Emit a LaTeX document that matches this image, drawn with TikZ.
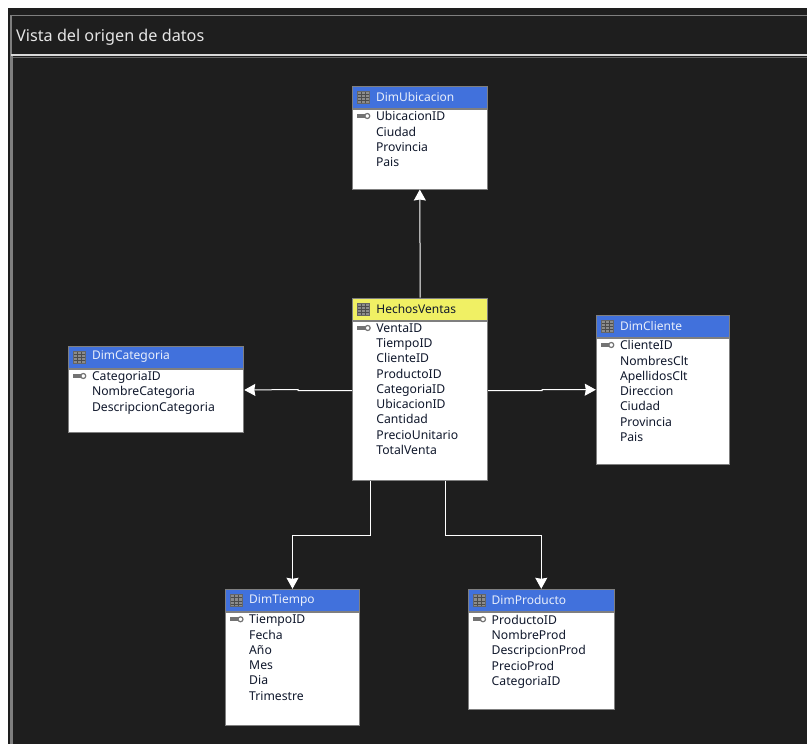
\documentclass[tikz,border=0pt]{standalone}
\usepackage{fontspec}
\setmainfont{Noto Sans}
\usetikzlibrary{positioning, calc, arrows.meta}
\definecolor{panel}{HTML}{1E1E1E}
\definecolor{edge}{HTML}{7F7F7F}
\definecolor{dimblue}{HTML}{4171DC}
\definecolor{factyellow}{HTML}{F0F064}
\definecolor{rowtext}{HTML}{10182C}
\tikzset{
head/.style = {rectangle, draw = edge, line width = 1pt, anchor = north west, inner sep = 0pt,
	minimum height = 22pt, fill = dimblue},
body/.style = {rectangle, draw = edge, line width = 1pt, inner sep = 0pt, fill = white},
headtext/.style = {inner sep = 0pt, anchor = west, font = \fontsize{12}{14}\selectfont, text = white!88!dimblue},
rows/.style = {inner sep = 0pt, anchor = north west, align = left, text = rowtext,
	font = \fontsize{12.2}{15.25}\selectfont},
tableicon/.style = {rectangle, draw = black!60, fill = black!45, line width = .6pt, minimum size = 12pt,
	inner sep = 0pt, path picture = {
		\draw [black!70, line width = .5pt]
			([yshift = -3pt]path picture bounding box.north west) -- ([yshift = -3pt]path picture bounding box.north east)
			([yshift = -6.5pt]path picture bounding box.north west) -- ([yshift = -6.5pt]path picture bounding box.north east)
			([yshift = 2.5pt]path picture bounding box.south west) -- ([yshift = 2.5pt]path picture bounding box.south east)
			([xshift = 4pt]path picture bounding box.north west) -- ([xshift = 4pt]path picture bounding box.south west)
			([xshift = -4pt]path picture bounding box.north east) -- ([xshift = -4pt]path picture bounding box.south east);
	}},
keyicon/.style = {rectangle, minimum width = 14pt, minimum height = 7pt, inner sep = 0pt, path picture = {
		\fill [black!55] ([yshift = 2pt]path picture bounding box.west) rectangle ([xshift = -5pt, yshift = -2pt]path picture bounding box.east);
		\draw [black!55, line width = 1.2pt, fill = white] ([xshift = -3.5pt]path picture bounding box.east) circle [radius = 2.5pt];
	}},
relation/.style = {-{Stealth[length = 11pt, width = 12pt, inset = 1pt]}, draw = white, fill = none, line width = 1pt},
}

\begin{document}
\begin{tikzpicture}[x = 1pt, y = -1pt]

\useasboundingbox (0, 0) rectangle (807, 744);

%% Window
\fill [white] (0, 0) rectangle (807, 744);
\fill [panel] (8, 8) rectangle (807, 744);
\draw [edge, line width = 1.5pt] (807, 15.5) -- (11, 15.5) -- (11, 55);
\draw [edge, line width = 2.5pt] (11.5, 55) -- (11.5, 744);
\draw [white!85!black, line width = 2pt] (11, 55) -- (807, 55);
\draw [black!60, line width = 1pt] (807, 57.5) -- (13, 57.5);
\node at (16, 37) [anchor = west, inner sep = 0pt, text = white!90!black, font = \fontsize{16.2}{18}\selectfont] (title) {Vista del origen de datos};

%% DimUbicacion
\node at (351.8, 85.5) [head, minimum width = 135pt] (ubicacion) {};
\node [body, minimum width = 135pt, minimum height = 80pt, below = 0pt of ubicacion] (ubicacionBody) {};
\node [tableicon] at ($(ubicacion.west) + (11.5, 0)$) (ubicacionIcon) {};
\node [headtext] at ($(ubicacion.west) + (24, 0)$) (ubicacionName) {DimUbicacion};
\node [keyicon] at ($(ubicacionBody.north west) + (12, 7.5)$) (ubicacionKey) {};
\node [rows] at ($(ubicacionBody.north west) + (24, 3)$) (ubicacionRows) {UbicacionID\\Ciudad\\Provincia\\Pais};

%% HechosVentas
\node at (352.2, 297.5) [head, minimum width = 135pt, fill = factyellow] (hechos) {};
\node [body, minimum width = 135pt, minimum height = 159pt, below = 0pt of hechos] (hechosBody) {};
\node [tableicon] at ($(hechos.west) + (11.5, 0)$) (hechosIcon) {};
\node [headtext, text = rowtext] at ($(hechos.west) + (24, 0)$) (hechosName) {HechosVentas};
\node [keyicon] at ($(hechosBody.north west) + (12, 7.5)$) (hechosKey) {};
\node [rows] at ($(hechosBody.north west) + (24, 3)$) (hechosRows) {VentaID\\TiempoID\\ClienteID\\ProductoID\\CategoriaID\\UbicacionID\\Cantidad\\PrecioUnitario\\TotalVenta};

%% DimCategoria
\node at (67.8, 345.5) [head, minimum width = 175.5pt] (categoria) {};
\node [body, minimum width = 175.5pt, minimum height = 63pt, below = 0pt of categoria] (categoriaBody) {};
\node [tableicon] at ($(categoria.west) + (11.5, 0)$) (categoriaIcon) {};
\node [headtext] at ($(categoria.west) + (24, 0)$) (categoriaName) {DimCategoria};
\node [keyicon] at ($(categoriaBody.north west) + (12, 7.5)$) (categoriaKey) {};
\node [rows] at ($(categoriaBody.north west) + (24, 3)$) (categoriaRows) {CategoriaID\\NombreCategoria\\DescripcionCategoria};

%% DimCliente
\node at (595.8, 314.5) [head, minimum width = 133.5pt] (cliente) {};
\node [body, minimum width = 133.5pt, minimum height = 126.5pt, below = 0pt of cliente] (clienteBody) {};
\node [tableicon] at ($(cliente.west) + (11.5, 0)$) (clienteIcon) {};
\node [headtext] at ($(cliente.west) + (24, 0)$) (clienteName) {DimCliente};
\node [keyicon] at ($(clienteBody.north west) + (12, 7.5)$) (clienteKey) {};
\node [rows] at ($(clienteBody.north west) + (24, 3)$) (clienteRows) {ClienteID\\NombresClt\\ApellidosClt\\Direccion\\Ciudad\\Provincia\\Pais};

%% DimTiempo
\node at (225, 588.8) [head, minimum width = 134pt] (tiempo) {};
\node [body, minimum width = 134pt, minimum height = 113.5pt, below = 0pt of tiempo] (tiempoBody) {};
\node [tableicon] at ($(tiempo.west) + (11.5, 0)$) (tiempoIcon) {};
\node [headtext] at ($(tiempo.west) + (24, 0)$) (tiempoName) {DimTiempo};
\node [keyicon] at ($(tiempoBody.north west) + (12, 7.5)$) (tiempoKey) {};
\node [rows] at ($(tiempoBody.north west) + (24, 3)$) (tiempoRows) {TiempoID\\Fecha\\Año\\Mes\\Dia\\Trimestre};

%% DimProducto
\node at (467.5, 588.8) [head, minimum width = 146.5pt] (producto) {};
\node [body, minimum width = 146.5pt, minimum height = 97pt, below = 0pt of producto] (productoBody) {};
\node [tableicon] at ($(producto.west) + (11.5, 0)$) (productoIcon) {};
\node [headtext] at ($(producto.west) + (24, 0)$) (productoName) {DimProducto};
\node [keyicon] at ($(productoBody.north west) + (12, 7.5)$) (productoKey) {};
\node [rows] at ($(productoBody.north west) + (24, 3)$) (productoRows) {ProductoID\\NombreProd\\DescripcionProd\\PrecioProd\\CategoriaID};

%% The relations
\draw [relation] (hechos.north) -- (ubicacionBody.south);
\draw [relation] ([yshift = 10pt]hechosBody.west) -- ++(-54, 0) -- ++(0, -1) -- ([yshift = 10.5pt]categoriaBody.east);
\draw [relation] ([yshift = 10pt]hechosBody.east) -- ++(54, 0) -- ++(0, -1) -- ([yshift = 11.5pt]clienteBody.west);
\draw [relation] ([xshift = -50pt]hechosBody.south) -- ++(0, 55) -| (tiempo.north);
\draw [relation] ([xshift = 25pt]hechosBody.south) -- ++(0, 55) -| (producto.north);

\end{tikzpicture}
\end{document}
